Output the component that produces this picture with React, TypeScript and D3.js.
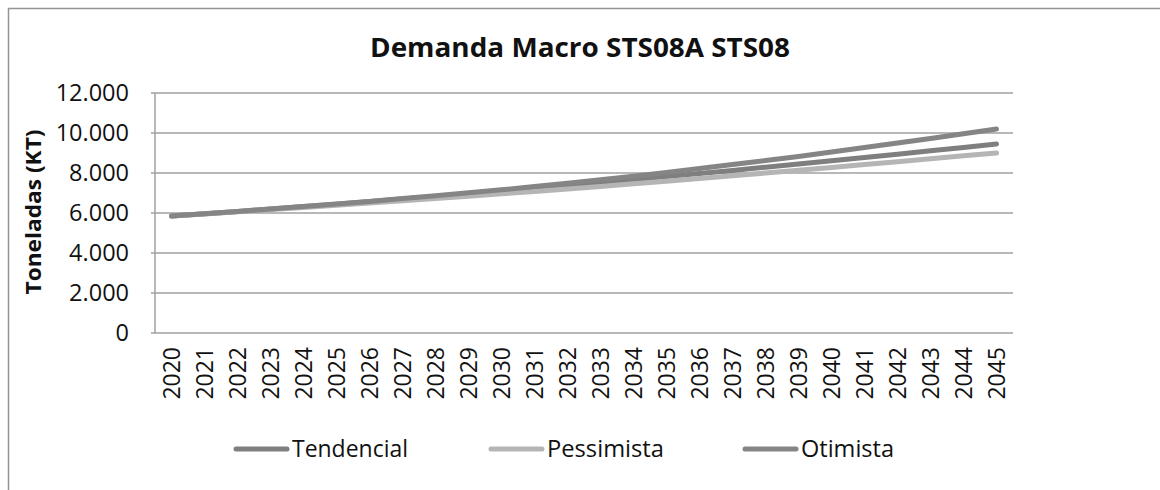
import React from 'react';
import * as d3 from 'd3';

const years = ['2020', '2021', '2022', '2023', '2024', '2025', '2026', '2027', '2028', '2029', '2030', '2031', '2032',
    '2033', '2034', '2035', '2036', '2037', '2038', '2039', '2040', '2041', '2042', '2043', '2044', '2045'];

const tendencial = [5850, 5960, 6080, 6200, 6320, 6440, 6570, 6700, 6830, 6960, 7100, 7240, 7380,
    7520, 7670, 7820, 7970, 8130, 8290, 8450, 8610, 8770, 8940, 9110, 9280, 9450];
const pessimista = [5850, 5950, 6060, 6170, 6280, 6390, 6500, 6610, 6720, 6840, 6960, 7080, 7200,
    7330, 7460, 7590, 7720, 7860, 8000, 8140, 8280, 8420, 8560, 8710, 8860, 9000];
const otimista = [5850, 5960, 6080, 6200, 6320, 6450, 6580, 6720, 6860, 7010, 7160, 7320, 7490,
    7660, 7840, 8030, 8220, 8420, 8620, 8830, 9050, 9270, 9500, 9730, 9960, 10200];

const yTicks = [0, 2000, 4000, 6000, 8000, 10000, 12000];
const yTickLabels = ['0', '2.000', '4.000', '6.000', '8.000', '10.000', '12.000'];

const series = [
    { name: 'Tendencial', values: tendencial, color: '#7f7f7f' },
    { name: 'Pessimista', values: pessimista, color: '#b5b5b5' },
    { name: 'Otimista', values: otimista, color: '#858585' },
];

const font = "'Open Sans', 'DejaVu Sans', sans-serif";

const plotChart = (ref) => {
    const svg = d3.select(ref.current);
    svg.selectAll('*').remove();

    const left = 155, right = 1013, top = 93, bottom = 333;

    // outer frame
    svg.append('rect')
        .attr('x', 8.5).attr('y', 8.5)
        .attr('width', 1200).attr('height', 520)
        .attr('fill', '#fff')
        .attr('stroke', '#959595')
        .attr('stroke-width', 1.5);

    const x = d3.scaleBand().domain(years).range([left, right]).padding(0);
    const y = d3.scaleLinear().domain([0, 12000]).range([bottom, top]);

    // gridlines
    svg.append('g')
        .selectAll('line')
        .data(yTicks)
        .enter().append('line')
        .attr('x1', left - 4)
        .attr('x2', right)
        .attr('y1', d => y(d))
        .attr('y2', d => y(d))
        .attr('stroke', '#a0a0a0')
        .attr('stroke-width', 1.5);

    // y axis line
    svg.append('line')
        .attr('x1', left).attr('x2', left)
        .attr('y1', top).attr('y2', bottom)
        .attr('stroke', '#a0a0a0')
        .attr('stroke-width', 1.5);

    // y tick labels
    svg.append('g')
        .selectAll('text')
        .data(yTicks)
        .enter().append('text')
        .attr('x', 129)
        .attr('y', d => y(d))
        .attr('dy', '0.36em')
        .attr('text-anchor', 'end')
        .attr('font-family', font)
        .attr('font-size', 23.5)
        .attr('fill', '#111')
        .text((d, i) => yTickLabels[i]);

    // x tick labels
    svg.append('g')
        .selectAll('text')
        .data(years)
        .enter().append('text')
        .attr('transform', d => `translate(${x(d) + x.bandwidth() / 2},${bottom + 14}) rotate(-90)`)
        .attr('dy', '0.36em')
        .attr('text-anchor', 'end')
        .attr('font-family', font)
        .attr('font-size', 23)
        .attr('fill', '#111')
        .text(d => d);

    // lines
    const line = d3.line()
        .x((d, i) => x(years[i]) + x.bandwidth() / 2)
        .y(d => y(d));

    series.forEach(s => {
        svg.append('path')
            .datum(s.values)
            .attr('fill', 'none')
            .attr('stroke', s.color)
            .attr('stroke-width', 5)
            .attr('stroke-linecap', 'round')
            .attr('stroke-linejoin', 'round')
            .attr('d', line);
    });

    // title
    svg.append('text')
        .attr('x', 580)
        .attr('y', 57)
        .attr('text-anchor', 'middle')
        .attr('font-family', font)
        .attr('font-weight', 'bold')
        .attr('font-size', 27)
        .attr('fill', '#111')
        .attr('textLength', 420)
        .attr('lengthAdjust', 'spacingAndGlyphs')
        .text('Demanda Macro STS08A STS08');

    // y axis title
    svg.append('text')
        .attr('transform', `translate(41,212) rotate(-90)`)
        .attr('text-anchor', 'middle')
        .attr('font-family', font)
        .attr('font-weight', 'bold')
        .attr('font-size', 22)
        .attr('fill', '#111')
        .attr('textLength', 165)
        .attr('lengthAdjust', 'spacingAndGlyphs')
        .text('Toneladas (KT)');

    // legend
    const legendX = [233, 488, 742];
    const legendW = [116, 117, 93];
    series.forEach((s, i) => {
        svg.append('line')
            .attr('x1', legendX[i] + 3).attr('x2', legendX[i] + 54)
            .attr('y1', 449).attr('y2', 449)
            .attr('stroke', s.color)
            .attr('stroke-width', 5)
            .attr('stroke-linecap', 'round');
        svg.append('text')
            .attr('x', legendX[i] + 59)
            .attr('y', 449)
            .attr('dy', '0.36em')
            .attr('font-family', font)
            .attr('font-size', 23)
            .attr('fill', '#111')
            .attr('textLength', legendW[i])
            .attr('lengthAdjust', 'spacingAndGlyphs')
            .text(s.name);
    });
};

function App() {
    const ref = React.useRef(null);

    React.useEffect(() => {
        plotChart(ref);
    }, []);

    return (
        <svg
            ref={ref}
            width={1160}
            height={490}
            style={{ position: 'absolute', left: 0, top: 0, background: '#fff' }}
        />
    );
}

export default App;
